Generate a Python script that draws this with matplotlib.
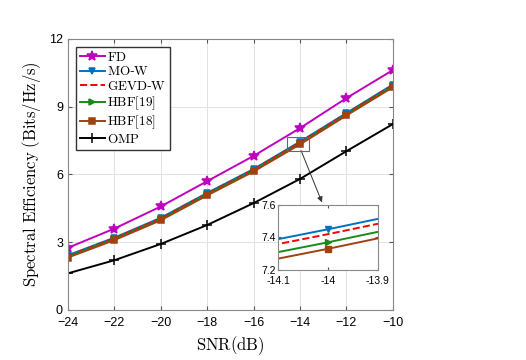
import matplotlib
matplotlib.use("Agg")
import matplotlib.pyplot as plt
from matplotlib.patches import Rectangle

plt.rcParams["mathtext.fontset"] = "cm"
plt.rcParams["font.family"] = ["Liberation Sans", "DejaVu Sans"]

snr = [-24, -22, -20, -18, -16, -14, -12, -10]
fd = [2.75, 3.60, 4.58, 5.70, 6.82, 8.05, 9.38, 10.62]
mo_w = [2.42, 3.20, 4.08, 5.18, 6.24, 7.45, 8.72, 9.98]
gevd_w = [2.40, 3.17, 4.05, 5.15, 6.21, 7.42, 8.69, 9.95]
hbf19 = [2.36, 3.13, 4.01, 5.11, 6.17, 7.37, 8.65, 9.90]
hbf18 = [2.32, 3.09, 3.97, 5.07, 6.13, 7.33, 8.61, 9.86]
omp = [1.62, 2.20, 2.92, 3.76, 4.73, 5.80, 7.03, 8.23]

xticks = [-24, -22, -20, -18, -16, -14, -12, -10]
yticks = [0, 3, 6, 9, 12]
inset_xticks = [-14.1, -14.0, -13.9]
inset_xlabels = ["-14.1", "-14", "-13.9"]
inset_yticks = [7.2, 7.4, 7.6]

series = [
    (r"$\mathrm{FD}$", fd, "#BF00BF", "-", "*", 7),
    (r"$\mathrm{MO}$-$\mathrm{W}$", mo_w, "#0072BD", "-", "v", 5),
    (r"$\mathrm{GEVD}$-$\mathrm{W}$", gevd_w, "#FF0000", "--", None, 0),
    (r"$\mathrm{HBF[19]}$", hbf19, "#1B8A1B", "-", ">", 5),
    (r"$\mathrm{HBF[18]}$", hbf18, "#A2400F", "-", "s", 4.5),
    (r"$\mathrm{OMP}$", omp, "#000000", "-", "+", 7),
]

fig = plt.figure(figsize=(5.26, 3.6), dpi=100)
ax = fig.add_axes([0.129, 0.139, 0.618, 0.753])
for label, vals, color, ls, mk, ms in series:
    ax.plot(snr, vals, color=color, linestyle=ls, marker=mk, markersize=ms,
            linewidth=1.4, markeredgewidth=1.1, label=label)

ax.set_xlim(-24, -10)
ax.set_ylim(0, 12)
ax.set_xticks(xticks)
ax.set_yticks(yticks)
ax.grid(True, color="#E2E2E2", linewidth=0.7)
ax.tick_params(direction="in", labelsize=9, length=3, color="#555555", top=True, right=True)
ax.tick_params(axis="x", pad=5)
for s in ax.spines.values():
    s.set_color("#888888")
ax.set_xlabel(r"$\mathrm{SNR(dB)}$", fontsize=12)
ax.set_ylabel(r"$\mathrm{Spectral\ Efficiency\ (Bits/Hz/s)}$", fontsize=12)
ax.legend(loc="upper left", fontsize=9.5, frameon=True, fancybox=False,
          edgecolor="#333333", framealpha=1.0,
          handlelength=1.9, handletextpad=0.2, borderpad=0.3, labelspacing=0.12,
          borderaxespad=0.6)

# zoom box and arrow
ax.add_patch(Rectangle((-14.55, 7.05), 0.95, 0.62, fill=False, edgecolor="#666666",
                       linewidth=0.8, zorder=5))
ax.annotate("", xy=(-13.01, 4.65), xytext=(-14.0, 7.17),
            arrowprops=dict(arrowstyle="-|>", color="#333333", linewidth=0.7, mutation_scale=8))

ins = fig.add_axes([0.529, 0.25, 0.189, 0.181])
for label, vals, color, ls, mk, ms in series:
    ins.plot(snr, vals, color=color, linestyle=ls, marker=mk, markersize=ms,
             linewidth=1.4, markeredgewidth=1.0)
ins.set_xlim(-14.1, -13.9)
ins.set_ylim(7.2, 7.6)
ins.set_xticks(inset_xticks)
ins.set_xticklabels(inset_xlabels)
ins.set_yticks(inset_yticks)
ins.tick_params(direction="in", labelsize=7.5, length=2, color="#555555", top=True, right=True, pad=2)
ins.tick_params(axis="x", pad=4)
for s in ins.spines.values():
    s.set_color("#888888")

fig.savefig("out.png", dpi=100)
